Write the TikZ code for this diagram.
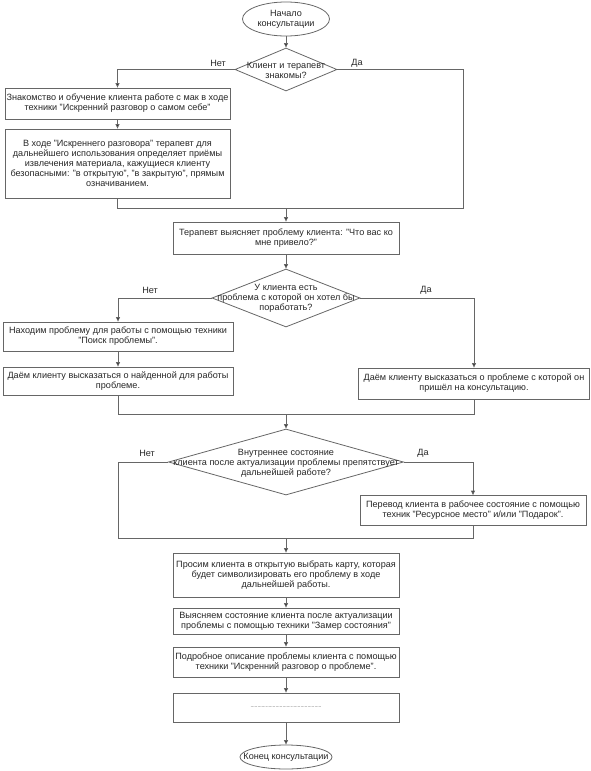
\documentclass[tikz,border=0pt]{standalone}
\usepackage{fontspec}
\setmainfont{Liberation Sans}
\usetikzlibrary{shapes.geometric,arrows.meta}
\begin{document}
\begin{tikzpicture}[x=1pt,y=-1pt,
  txt/.style={font=\fontsize{9.1}{9.9}\selectfont, text=black!85, align=center, inner sep=0pt},
  box/.style={txt, draw=black!60, line width=0.8pt, rectangle},
  dia/.style={draw=black!60, line width=0.8pt, diamond, inner sep=0pt},
  term/.style={txt, draw=black!60, line width=0.8pt, ellipse},
  line/.style={draw=black!60, line width=0.8pt},
  arr/.style={line, -{Triangle[length=4.5pt,width=4pt,fill=black!85]}},
  lbl/.style={txt}]
\useasboundingbox (0,0) rectangle (591,771);

% terminals
\node[term, minimum width=87pt, minimum height=34pt] (start) at (286,19) {Начало\\консультации};
\node[term, minimum width=92pt, minimum height=24pt, inner xsep=-10pt, inner ysep=2pt] (end) at (286,757) {Конец консультации};

% decision 1
\node[dia, minimum width=102pt, minimum height=43pt] (d1) at (286,69.5) {};
\node[txt] (d1t) at (286,70) {Клиент и терапевт\\знакомы?};

% left branch boxes
\node[box, minimum width=225pt, minimum height=31pt] (b1) at (117.5,103.5)
  {Знакомство и обучение клиента работе с мак в ходе\\техники "Искренний разговор о самом себе"};
\node[box, minimum width=225pt, minimum height=69pt] (b2) at (117.5,163.5)
  {В ходе "Искреннего разговора" терапевт для\\дальнейшего использования определяет приёмы\\извлечения материала, кажущиеся клиенту\\безопасными: "в открытую", "в закрытую", прямым\\означиванием.};

\node[box, minimum width=226pt, minimum height=32pt] (b3) at (286,238)
  {Терапевт выясняет проблему клиента: "Что вас ко\\мне привело?"};

% decision 2
\node[dia, minimum width=148pt, minimum height=58pt] (d2) at (286,298) {};
\node[txt] (d2t) at (286,298) {У клиента есть\\проблема с которой он хотел бы\\поработать?};

\node[box, minimum width=230pt, minimum height=29pt] (b4) at (118,336.5)
  {Находим проблему для работы с помощью техники\\"Поиск проблемы".};
\node[box, minimum width=230pt, minimum height=28pt] (b5) at (118,381)
  {Даём клиенту высказаться о найденной для работы\\проблеме.};
\node[box, minimum width=231pt, minimum height=31pt] (b6) at (474,383.5)
  {Даём клиенту высказаться о проблеме с которой он\\пришёл на консультацию.};

% decision 3
\node[dia, minimum width=235pt, minimum height=66pt] (d3) at (286,462) {};
\node[txt] (d3t) at (286,463) {Внутреннее состояние\\клиента после актуализации проблемы препятствует\\дальнейшей работе?};

\node[box, minimum width=226pt, minimum height=30pt] (b7) at (473,510.5)
  {Перевод клиента в рабочее состояние с помощью\\техник "Ресурсное место" и/или "Подарок".};

\node[box, minimum width=226pt, minimum height=44pt] (b8) at (286,575)
  {Просим клиента в открытую выбрать карту, которая\\будет символизировать его проблему в ходе\\дальнейшей работы.};
\node[box, minimum width=226pt, minimum height=26pt] (b9) at (286,621)
  {Выясняем состояние клиента после актуализации\\проблемы с помощью техники "Замер состояния"};
\node[box, minimum width=226pt, minimum height=30pt] (b10) at (286,662)
  {Подробное описание проблемы клиента с помощью\\техники "Искренний разговор о проблеме".};
\node[box, minimum width=226pt, minimum height=29pt] (b11) at (286,707.5)
  {\fontsize{5}{6}\selectfont ...................................................};

% junctions
\coordinate (j1) at (463,208);
\coordinate (j2) at (286,414);
\coordinate (j3l) at (118,538);
\coordinate (j3) at (286,538);

% connectors
\draw[arr] (start) -- (d1);
\draw[arr] (d1.west) -| (b1.north);
\draw[arr] (d1.east) -| (j1) -| (b3.north);
\draw[arr] (b1) -- (b2);
\draw[line] (b2.south) |- (j1);
\draw[arr] (b3) -- (d2);
\draw[arr] (d2.west) -| (b4.north);
\draw[arr] (d2.east) -| (b6.north);
\draw[arr] (b4) -- (b5);
\draw[line] (b5.south) |- (j2);
\draw[line] (b6.south) |- (j2);
\draw[arr] (j2) -- (d3.north);
\draw[arr] (d3.east) -| (b7.north);
\draw[line] (d3.west) -| (j3l) -- (j3);
\draw[line] (b7.south) |- (j3);
\draw[arr] (j3) -- (b8.north);
\draw[arr] (b8) -- (b9);
\draw[arr] (b9) -- (b10);
\draw[arr] (b10) -- (b11);
\draw[arr] (b11) -- (end);

% branch labels
\node[lbl] (n1) at (218,63) {Нет};
\node[lbl] (y1) at (357,63) {Да};
\node[lbl] (n2) at (150,290) {Нет};
\node[lbl] (y2) at (426,290) {Да};
\node[lbl] (n3) at (147,453) {Нет};
\node[lbl] (y3) at (423,453) {Да};
\end{tikzpicture}
\end{document}
